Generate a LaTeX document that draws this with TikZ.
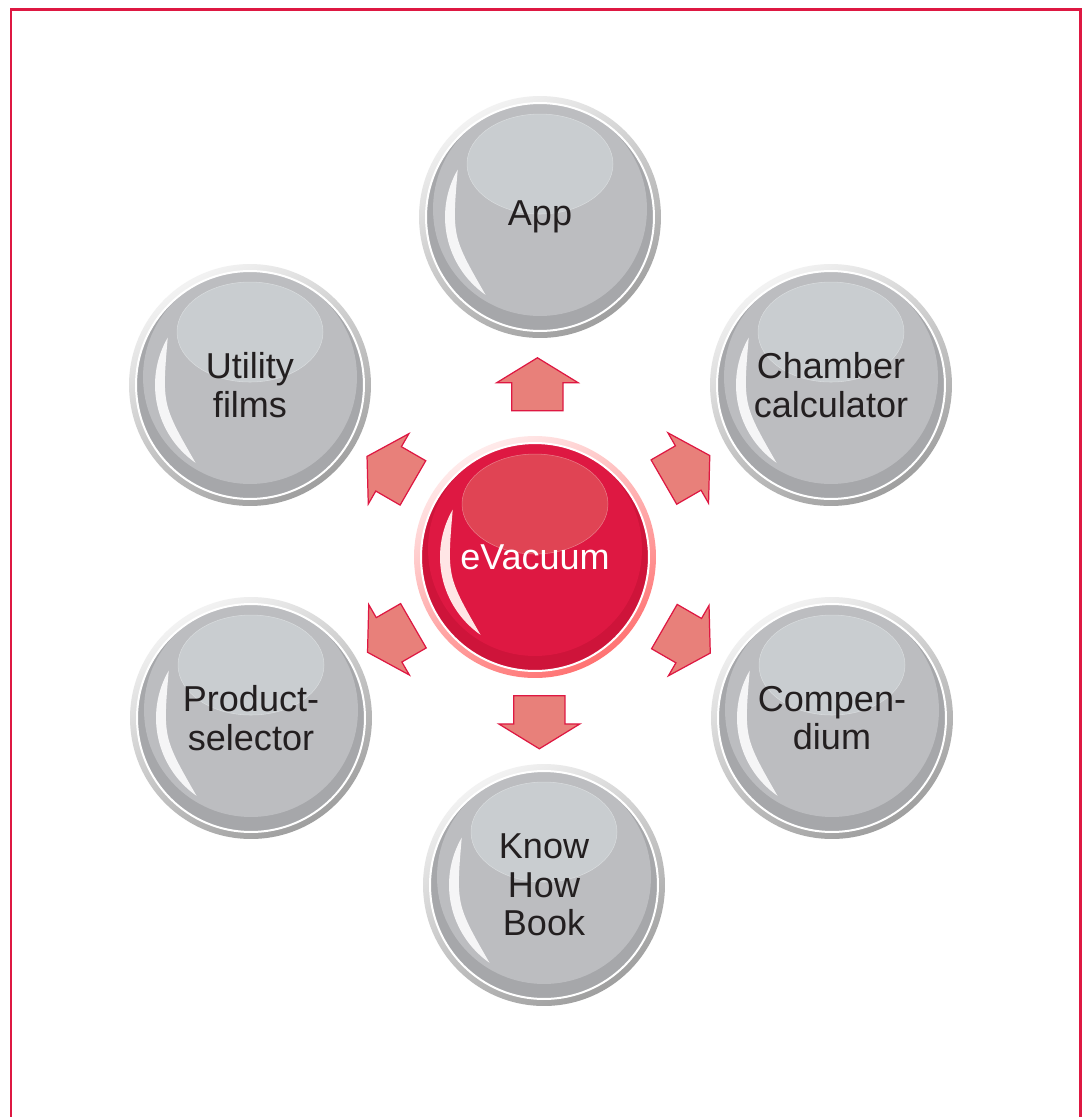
\documentclass[tikz,border=0pt]{standalone}
\usepackage{fontspec}
\setmainfont{Liberation Sans}
\usetikzlibrary{shapes.arrows, calc, backgrounds}

\definecolor{crimson1}{RGB}{222, 24, 66}
\definecolor{salmon1}{RGB}{232, 128, 122}
\definecolor{gray1}{RGB}{188, 189, 192}
\definecolor{gray2}{RGB}{166, 167, 170}
\definecolor{gray3}{RGB}{201, 205, 208}
\definecolor{red2}{RGB}{206, 20, 58}
\definecolor{red3}{RGB}{224, 68, 84}
\definecolor{text1}{RGB}{35, 31, 32}

% shine of one ball: main disk, top highlight, left crescent
\newcommand{\ballshine}[3]{%
  \coordinate (pc) at (path picture bounding box.center);
  \fill[#1] ([yshift=0.16cm]pc) circle (2.14cm);
  \filldraw[fill=#2, draw=#2!70!white, line width=0.3pt] ([yshift=1.06cm]pc) ellipse [x radius=1.46cm, y radius=1cm];
  \fill[#3] ($(pc)+(150:1.9cm)$) arc [start angle=150, end angle=235, radius=1.9cm]
    .. controls ($(pc)+(-1.76cm,-0.39cm)$) .. ($(pc)+(150:1.9cm)$) -- cycle;
}

\tikzset{
  ball/.style={circle, minimum size=4.56cm, inner sep=0pt, draw=white, line width=0.04cm,
    align=center, font=\fontsize{20.5}{22}\selectfont},
  grayball/.style={ball, fill=gray2, text=text1, path picture={\ballshine{gray1}{gray3}{white!85!gray1}}},
  redball/.style={ball, fill=red2, text=white, path picture={\ballshine{crimson1}{red3}{red!10!white}}},
  grayring/.style={top color=gray!10, bottom color=gray!75, shading angle=30},
  redring/.style={top color=red!8!white, bottom color=red!55!white, shading angle=30},
  arrowbox/.style={single arrow, draw=crimson1, fill=salmon1, line width=0.7pt,
    inner xsep=0pt, inner ysep=0.5cm, minimum height=1.06cm,
    single arrow head extend=0.3cm, single arrow tip angle=117, single arrow head indent=0pt},
  frame/.style={draw=crimson1, line width=0.06cm}
}

\begin{document}
\begin{tikzpicture}[x=0.02cm, y=-0.02cm]
  \useasboundingbox (0,0) rectangle (1088,1117);

  % centre and the six tools
  \node[redball] (ev) at (535,557) {eVacuum};
  \node[grayball] (app) at (540,217) {App};
  \node[grayball] (chamber) at (831,385) {Chamber\\calculator};
  \node[grayball] (utility) at (250,385) {Utility\\films};
  \node[grayball] (product) at (251,718) {Product-\\selector};
  \node[grayball] (compendium) at (832,718) {Compen-\\dium};
  \node[grayball] (knowhow) at (544,885) {Know\\How\\Book};

  % block arrows
  \node[arrowbox, rotate=90] (a1) at ($(ev)!0.485!(app)$) {};
  \node[arrowbox, rotate=30] (a2) at ($(ev)!0.49!(chamber)$) {};
  \node[arrowbox, rotate=150] (a3) at ($(ev)!0.485!(utility)$) {};
  \node[arrowbox, rotate=210] (a4) at ($(ev)!0.485!(product)$) {};
  \node[arrowbox, rotate=-30] (a5) at ($(ev)!0.49!(compendium)$) {};
  \node[arrowbox, rotate=-90] (a6) at ($(ev)!0.48!(knowhow)$) {};

  % rings behind the balls
  \begin{scope}[on background layer]
    \fill[white] (0,0) rectangle (1088,1117);
    \foreach \n in {app, chamber, utility, product, compendium, knowhow}
      \shade[grayring] (\n) circle (2.42cm);
    \shade[redring] (ev) circle (2.42cm);
  \end{scope}

  % frame, open at the bottom
  \draw[frame] (11,1130) -- (11,9) -- (1080,9) -- (1080,1130);
\end{tikzpicture}
\end{document}
